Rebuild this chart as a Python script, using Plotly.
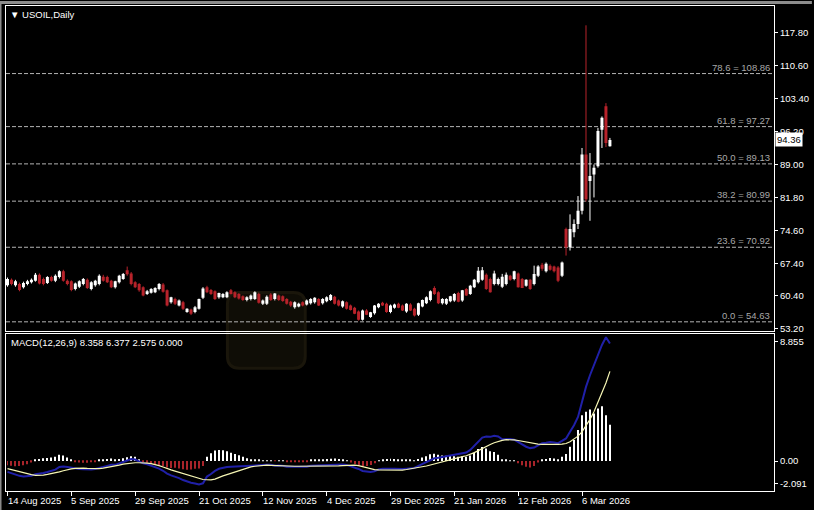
import plotly.graph_objects as go

# ---------------- data ----------------
bar_index = list(range(152))

opens = [
    62.6, 63.8, 62.6, 62.9, 62.2, 62.9, 63.3, 63.6, 64.9, 64.0,
    63.1, 64.4, 63.6, 64.4, 65.7, 63.6, 63.5, 61.8, 62.3, 62.9,
    63.8, 61.8, 62.6, 62.9, 64.5, 64.4, 63.6, 62.2, 63.3, 64.0,
    65.9, 65.2, 63.3, 62.9, 62.2, 60.7, 61.0, 61.1, 61.8, 62.8,
    61.5, 58.9, 59.6, 58.2, 58.9, 56.8, 57.3, 56.8, 57.5, 59.9,
    62.2, 61.6, 61.3, 60.0, 60.0, 60.0, 61.5, 61.1, 60.7, 60.2,
    59.4, 59.6, 59.6, 60.7, 58.6, 58.6, 60.6, 59.6, 60.4, 60.2,
    59.6, 59.0, 57.8, 58.0, 58.9, 58.4, 58.7, 58.9, 59.6, 58.7,
    59.1, 59.4, 60.1, 59.3, 58.0, 58.9, 58.2, 57.7, 56.9, 55.1,
    57.1, 55.7, 56.5, 57.8, 58.8, 58.6, 56.8, 57.7, 58.6, 58.2,
    56.9, 58.4, 57.5, 56.2, 58.0, 58.7, 59.4, 62.0, 61.1, 58.7,
    58.6, 59.1, 59.3, 60.9, 59.3, 61.8, 60.7, 62.2, 63.3, 63.8,
    64.9, 64.0, 62.9, 62.9, 62.3, 62.9, 64.7, 64.0, 65.2, 64.0,
    62.5, 63.8, 62.9, 64.7, 67.1, 65.7, 66.9, 66.7, 66.5, 64.7,
    74.9, 70.9, 74.2, 76.0, 78.9, 91.2, 85.4, 86.8, 88.6, 96.6,
    101.7, 93.0,
]
highs = [
    64.3, 64.1, 63.8, 63.2, 63.4, 63.8, 64.1, 65.3, 65.2, 64.3,
    64.6, 64.7, 65.0, 65.9, 66.0, 63.9, 63.7, 63.2, 63.7, 64.2,
    64.1, 63.5, 63.8, 65.0, 64.9, 64.7, 63.8, 63.6, 64.9, 65.3,
    66.7, 65.5, 63.5, 63.1, 62.4, 61.6, 62.0, 62.2, 63.1, 63.1,
    61.7, 60.1, 59.9, 59.5, 59.2, 57.6, 57.5, 58.1, 59.7, 62.2,
    62.5, 61.8, 61.5, 61.0, 60.9, 61.3, 61.8, 61.3, 60.9, 60.4,
    60.2, 60.6, 61.3, 61.0, 59.5, 60.4, 60.9, 60.9, 60.6, 60.4,
    59.8, 59.2, 59.1, 58.8, 59.1, 59.5, 59.8, 60.0, 59.8, 59.8,
    60.2, 60.7, 60.3, 59.5, 59.3, 59.1, 58.4, 57.9, 57.1, 57.3,
    57.4, 56.8, 58.3, 58.7, 59.0, 58.8, 58.4, 58.6, 58.8, 58.4,
    58.7, 58.7, 57.7, 58.8, 59.5, 60.2, 61.5, 62.4, 61.3, 59.8,
    59.8, 60.3, 60.9, 61.2, 61.6, 62.0, 62.7, 64.0, 66.6, 66.6,
    65.2, 64.3, 65.8, 64.3, 65.1, 65.4, 64.9, 65.8, 65.4, 64.2,
    63.9, 64.0, 66.9, 67.0, 67.5, 67.6, 67.2, 66.9, 66.8, 67.8,
    75.2, 78.1, 77.0, 82.1, 92.6, 119.4, 91.5, 89.0, 97.0, 99.5,
    102.4, 94.8,
]
lows = [
    62.3, 62.6, 62.3, 61.3, 61.9, 62.6, 63.0, 63.4, 62.8, 62.6,
    62.9, 63.4, 63.3, 64.1, 63.4, 62.6, 61.3, 61.5, 62.0, 62.6,
    61.8, 61.5, 62.3, 62.6, 63.4, 63.1, 62.0, 61.9, 63.0, 63.8,
    64.7, 62.6, 62.0, 61.2, 60.2, 60.5, 60.8, 60.9, 61.5, 61.0,
    58.0, 58.6, 58.3, 58.0, 57.2, 56.6, 56.1, 56.5, 57.3, 59.6,
    60.9, 60.5, 59.4, 59.7, 59.8, 59.8, 60.6, 59.8, 59.5, 59.2,
    59.1, 59.3, 59.4, 58.6, 58.3, 58.3, 59.2, 59.3, 59.2, 59.0,
    58.4, 57.9, 57.5, 57.8, 58.0, 58.2, 58.4, 58.6, 58.1, 58.4,
    58.9, 59.2, 58.4, 58.0, 57.7, 57.3, 57.1, 56.3, 54.9, 54.9,
    56.1, 55.5, 56.2, 57.6, 58.1, 56.6, 56.5, 57.5, 57.6, 57.0,
    56.6, 57.0, 55.8, 55.9, 57.8, 58.5, 59.1, 60.5, 58.5, 58.4,
    58.3, 58.9, 59.0, 58.9, 59.0, 60.3, 60.5, 62.0, 63.0, 63.6,
    61.6, 61.0, 62.6, 62.6, 62.0, 62.6, 63.6, 63.7, 62.1, 62.0,
    62.3, 61.6, 62.6, 64.4, 65.8, 65.4, 65.8, 65.4, 63.3, 64.4,
    69.1, 70.2, 73.1, 74.9, 78.1, 80.9, 76.7, 81.8, 88.3, 92.6,
    92.8, 92.9,
]
closes = [
    64.0, 62.9, 63.5, 61.6, 63.1, 63.5, 63.8, 64.9, 63.0, 62.9,
    64.4, 63.6, 64.7, 65.7, 63.6, 62.9, 61.6, 63.0, 63.5, 64.0,
    62.0, 63.3, 63.6, 64.7, 63.6, 63.3, 62.2, 63.5, 64.7, 65.1,
    65.0, 62.9, 62.2, 61.5, 60.4, 61.3, 61.8, 62.0, 62.9, 61.2,
    58.2, 60.0, 58.6, 59.3, 57.5, 57.5, 56.4, 57.8, 59.6, 61.9,
    61.1, 60.7, 59.6, 60.9, 60.7, 61.1, 60.7, 60.0, 59.7, 59.4,
    60.0, 60.4, 61.1, 58.8, 59.3, 60.1, 59.4, 60.8, 59.4, 59.2,
    58.6, 58.2, 58.9, 58.6, 58.2, 59.3, 59.6, 59.9, 58.2, 59.6,
    60.0, 60.5, 58.6, 58.2, 59.1, 57.5, 57.2, 56.4, 55.1, 57.1,
    56.2, 56.7, 58.2, 58.6, 58.2, 56.8, 58.2, 58.4, 57.7, 57.1,
    58.6, 57.1, 56.0, 58.7, 59.4, 60.0, 61.3, 60.7, 58.7, 59.6,
    59.6, 60.2, 60.7, 59.0, 61.5, 60.4, 62.5, 63.8, 65.8, 65.9,
    61.8, 61.1, 65.2, 64.0, 64.5, 64.9, 63.8, 65.7, 62.2, 62.0,
    63.8, 61.8, 65.1, 66.7, 66.2, 67.3, 66.0, 65.7, 63.6, 67.6,
    70.9, 74.9, 76.0, 78.9, 91.2, 81.4, 86.5, 88.3, 96.3, 99.2,
    93.7, 94.36,
]

macd_main = [
    -0.77, -0.87, -0.98, -1.05, -1.09, -1.09, -1.05, -0.93, -0.90, -0.85,
    -0.78, -0.71, -0.61, -0.42, -0.38, -0.42, -0.47, -0.56, -0.57, -0.59,
    -0.61, -0.60, -0.57, -0.48, -0.41, -0.34, -0.27, -0.27, -0.17, -0.07,
    0.05, 0.14, 0.11, -0.03, -0.16, -0.23, -0.33, -0.41, -0.54, -0.69,
    -0.89, -1.02, -1.09, -1.21, -1.35, -1.47, -1.54, -1.59, -1.67, -1.58,
    -1.10, -0.92, -0.70, -0.55, -0.46, -0.42, -0.41, -0.39, -0.36, -0.35,
    -0.34, -0.32, -0.29, -0.27, -0.26, -0.27, -0.27, -0.34, -0.32, -0.33,
    -0.41, -0.42, -0.42, -0.41, -0.42, -0.41, -0.33, -0.32, -0.31, -0.30,
    -0.27, -0.25, -0.22, -0.22, -0.24, -0.27, -0.37, -0.44, -0.56, -0.70,
    -0.75, -0.77, -0.73, -0.59, -0.55, -0.53, -0.54, -0.55, -0.57, -0.56,
    -0.54, -0.51, -0.49, -0.34, -0.21, -0.08, 0.09, 0.20, 0.23, 0.26,
    0.34, 0.40, 0.46, 0.49, 0.57, 0.61, 0.79, 1.06, 1.39, 1.67,
    1.74, 1.72, 1.80, 1.75, 1.55, 1.58, 1.57, 1.52, 1.34, 1.17,
    1.02, 0.92, 0.96, 1.12, 1.27, 1.30, 1.35, 1.32, 1.27, 1.43,
    1.61, 2.08, 2.55, 3.14, 4.21, 5.27, 6.10, 6.81, 7.52, 8.25,
    8.80, 8.358,
]
macd_signal = [
    -0.54, -0.62, -0.70, -0.78, -0.86, -0.92, -0.97, -1.02, -1.02, -1.00,
    -0.95, -0.90, -0.84, -0.77, -0.69, -0.61, -0.56, -0.52, -0.49, -0.50,
    -0.52, -0.54, -0.54, -0.54, -0.50, -0.46, -0.41, -0.35, -0.29, -0.22,
    -0.17, -0.13, -0.12, -0.12, -0.12, -0.14, -0.18, -0.24, -0.32, -0.42,
    -0.54, -0.63, -0.72, -0.81, -0.90, -0.99, -1.08, -1.17, -1.27, -1.31,
    -1.33, -1.34, -1.28, -1.15, -1.05, -0.96, -0.87, -0.78, -0.68, -0.58,
    -0.49, -0.41, -0.37, -0.33, -0.30, -0.29, -0.30, -0.32, -0.34, -0.35,
    -0.36, -0.36, -0.37, -0.37, -0.37, -0.38, -0.38, -0.38, -0.39, -0.39,
    -0.38, -0.37, -0.36, -0.34, -0.32, -0.30, -0.29, -0.29, -0.33, -0.41,
    -0.48, -0.55, -0.61, -0.63, -0.64, -0.65, -0.66, -0.66, -0.66, -0.64,
    -0.60, -0.56, -0.51, -0.46, -0.40, -0.35, -0.28, -0.20, -0.12, -0.05,
    0.05, 0.12, 0.19, 0.26, 0.32, 0.38, 0.48, 0.60, 0.74, 0.90,
    1.05, 1.18, 1.30, 1.40, 1.47, 1.52, 1.53, 1.50, 1.46, 1.40,
    1.33, 1.27, 1.23, 1.20, 1.19, 1.18, 1.18, 1.18, 1.18, 1.20,
    1.25, 1.37, 1.54, 1.77, 2.08, 2.48, 2.96, 3.50, 4.14, 4.85,
    5.55, 6.377,
]
macd_hist = [
    -0.30, -0.33, -0.37, -0.35, -0.30, -0.22, -0.10, 0.12, 0.15, 0.20,
    0.22, 0.25, 0.30, 0.45, 0.40, 0.25, 0.12, -0.05, -0.10, -0.12,
    -0.12, -0.08, -0.04, 0.08, 0.12, 0.15, 0.18, 0.10, 0.15, 0.20,
    0.28, 0.35, 0.30, 0.12, -0.05, -0.12, -0.20, -0.22, -0.28, -0.35,
    -0.45, -0.50, -0.48, -0.52, -0.58, -0.62, -0.60, -0.55, -0.52, -0.35,
    0.30, 0.55, 0.75, 0.78, 0.76, 0.70, 0.60, 0.50, 0.42, 0.30,
    0.20, 0.12, 0.10, 0.08, 0.05, 0.02, 0.04, -0.02, 0.03, 0.02,
    -0.06, -0.08, -0.07, -0.05, -0.06, -0.04, 0.06, 0.08, 0.10, 0.12,
    0.14, 0.16, 0.18, 0.15, 0.10, 0.04, -0.10, -0.20, -0.30, -0.38,
    -0.35, -0.28, -0.15, 0.05, 0.12, 0.15, 0.16, 0.14, 0.12, 0.10,
    0.08, 0.06, 0.02, 0.15, 0.25, 0.35, 0.48, 0.52, 0.45, 0.40,
    0.38, 0.36, 0.35, 0.30, 0.32, 0.30, 0.40, 0.60, 0.85, 1.00,
    0.90, 0.70, 0.65, 0.45, 0.10, 0.08, 0.05, 0.03, -0.15, -0.30,
    -0.40, -0.45, -0.35, -0.10, 0.10, 0.15, 0.22, 0.18, 0.12, 0.30,
    0.50, 1.02, 1.49, 2.20, 3.26, 3.50, 3.66, 3.38, 3.73, 3.90,
    3.26, 2.575,
]

date_ticks = [0, 16, 32, 48, 64, 80, 96, 112, 128, 144]
date_labels = ["14 Aug 2025", "5 Sep 2025", "29 Sep 2025", "21 Oct 2025",
               "12 Nov 2025", "4 Dec 2025", "29 Dec 2025", "21 Jan 2026",
               "12 Feb 2026", "6 Mar 2026"]
price_ticks = [117.80, 110.60, 103.40, 96.20, 89.00, 81.80, 74.60, 67.40, 60.40, 53.20]
macd_tick_pos = [8.50, 0.0, -1.63]
macd_tick_labels = ["8.855", "0.00", "-2.091"]
fib_levels = [0.0, 23.6, 38.2, 50.0, 61.8, 78.6]
fib_prices = [54.63, 70.92, 80.99, 89.13, 97.27, 108.86]
symbol_title = "USOIL,Daily"
macd_title = "MACD(12,26,9) 8.358 6.377 2.575 0.000"

# ---------------- styling ----------------
FONT = "Liberation Sans, Arial, sans-serif"
FS = 9.5
BULL = "#ffffff"
BEAR = "#b8232b"
PW, PH = 770, 486  # plot area size in px (for paper-space decorations)

fig = go.Figure()

bull = [i for i in bar_index if closes[i] >= opens[i]]
bear = [i for i in bar_index if closes[i] < opens[i]]


def wick_xy(idx):
    xs, ys = [], []
    for i in idx:
        xs += [i, i, None]
        ys += [lows[i], highs[i], None]
    return xs, ys


for idx, col in ((bull, BULL), (bear, BEAR)):
    wx, wy = wick_xy(idx)
    fig.add_trace(go.Scatter(x=wx, y=wy, mode="lines", line=dict(color=col, width=1),
                             xaxis="x", yaxis="y", hoverinfo="skip"))
    fig.add_trace(go.Bar(x=idx,
                         y=[max(abs(closes[i] - opens[i]), 0.15) for i in idx],
                         base=[min(opens[i], closes[i]) for i in idx],
                         width=0.75, marker=dict(color=col, line=dict(width=0)),
                         xaxis="x", yaxis="y", hoverinfo="skip"))

# MACD histogram
pos = [i for i in bar_index if macd_hist[i] >= 0]
neg = [i for i in bar_index if macd_hist[i] < 0]
fig.add_trace(go.Bar(x=pos, y=[macd_hist[i] for i in pos], width=0.25,
                     marker=dict(color="#ffffff", line=dict(width=0)),
                     xaxis="x2", yaxis="y2", hoverinfo="skip"))
fig.add_trace(go.Bar(x=neg, y=[macd_hist[i] for i in neg], width=0.25,
                     marker=dict(color="#a8242a", line=dict(width=0)),
                     xaxis="x2", yaxis="y2", hoverinfo="skip"))
fig.add_trace(go.Scatter(x=bar_index, y=macd_main, mode="lines",
                         line=dict(color="#2020a8", width=2),
                         xaxis="x2", yaxis="y2", hoverinfo="skip"))
fig.add_trace(go.Scatter(x=bar_index, y=macd_signal, mode="lines",
                         line=dict(color="#f6f6b4", width=1.2),
                         xaxis="x2", yaxis="y2", hoverinfo="skip"))

xrange = [-0.375, 192.125]
axis_common = dict(showgrid=False, zeroline=False, showline=True, mirror=True,
                   linecolor="#ffffff", linewidth=1)

shapes = []
annotations = []

# faint watermark logo (decoration, paper space)
wx0, wx1 = (228 - 6) / PW, (306 - 6) / PW
wy0, wy1 = (491 - 368) / PH, (491 - 292) / PH
rx, ry = 12 / PW, 12 / PH
wm_path = (f"M {wx0+rx},{wy0} L {wx1-rx},{wy0} Q {wx1},{wy0} {wx1},{wy0+ry} "
           f"L {wx1},{wy1-ry} Q {wx1},{wy1} {wx1-rx},{wy1} L {wx0+rx},{wy1} "
           f"Q {wx0},{wy1} {wx0},{wy1-ry} L {wx0},{wy0+ry} Q {wx0},{wy0} {wx0+rx},{wy0} Z")
shapes.append(dict(type="path", xref="paper", yref="paper", path=wm_path,
                   fillcolor="#0f0d06", line=dict(color="#1a160b", width=3), layer="below"))

for lvl, p in zip(fib_levels, fib_prices):
    shapes.append(dict(type="line", xref="x domain", yref="y", x0=0, x1=1, y0=p, y1=p,
                       line=dict(color="#b4b4b4", width=1, dash="4px,2px"), layer="below"))
    annotations.append(dict(xref="paper", yref="y", x=1, y=p, xanchor="right", yanchor="bottom",
                            xshift=-2, yshift=-1, showarrow=False,
                            text=f"{lvl:.1f} = {p:.2f}",
                            font=dict(family=FONT, size=FS, color="#a8a8a8")))

# window frame strips
shapes.append(dict(type="rect", xref="paper", yref="paper", x0=-6 / PW, x1=1 + 38 / PW,
                   y0=1 + 2 / PH, y1=1 + 5 / PH, fillcolor="#8c8c8c", line=dict(width=0)))
shapes.append(dict(type="rect", xref="paper", yref="paper", x0=-6 / PW, x1=-4.5 / PW,
                   y0=-19 / PH, y1=1 + 5 / PH, fillcolor="#8c8c8c", line=dict(width=0)))

annotations.append(dict(xref="paper", yref="paper", x=0, y=1, xanchor="left", yanchor="top",
                        xshift=2, yshift=-1, showarrow=False, text="▼ " + symbol_title,
                        font=dict(family=FONT, size=FS, color="#ffffff")))
annotations.append(dict(xref="paper", yref="paper", x=0, y=0.3230, xanchor="left", yanchor="top",
                        xshift=3, yshift=-1, showarrow=False, text=macd_title,
                        font=dict(family=FONT, size=FS, color="#ffffff")))
annotations.append(dict(xref="paper", yref="y", x=1, y=closes[-1], xanchor="left", yanchor="middle",
                        xshift=1, showarrow=False, text=f"{closes[-1]:.2f}",
                        bgcolor="#ffffff", borderpad=1,
                        font=dict(family=FONT, size=FS, color="#000000")))
for t, lab in zip(date_ticks, date_labels):
    annotations.append(dict(xref="x2", yref="paper", x=t, y=0, xanchor="left", yanchor="top",
                            xshift=-2, yshift=-2, showarrow=False, text=lab,
                            font=dict(family=FONT, size=FS, color="#ffffff")))

fig.update_layout(
    width=814, height=510,
    margin=dict(l=6, r=38, t=5, b=19),
    paper_bgcolor="#000000", plot_bgcolor="rgba(0,0,0,0)",
    showlegend=False, barmode="overlay", hovermode=False,
    font=dict(family=FONT, size=FS, color="#ffffff"),
    xaxis=dict(domain=[0, 1], anchor="y", range=xrange, showticklabels=False, ticks="",
               **axis_common),
    yaxis=dict(domain=[0.3292, 1], anchor="x", side="right", range=[52.55, 123.62],
               tickvals=price_ticks, ticktext=[f"{v:.2f}" for v in price_ticks],
               ticks="outside", ticklen=3, tickcolor="#ffffff", ticklabelstandoff=0,
               tickfont=dict(family=FONT, size=FS, color="#ffffff"), **axis_common),
    xaxis2=dict(domain=[0, 1], anchor="y2", range=xrange, matches="x",
                tickvals=date_ticks, showticklabels=False,
                ticks="outside", ticklen=4, tickcolor="#ffffff", **axis_common),
    yaxis2=dict(domain=[0, 0.3230], anchor="x2", side="right", range=[-2.128, 9.007],
                tickvals=macd_tick_pos, ticktext=macd_tick_labels,
                ticks="outside", ticklen=3, tickcolor="#ffffff", ticklabelstandoff=0,
                tickfont=dict(family=FONT, size=FS, color="#ffffff"), **axis_common),
    shapes=shapes,
    annotations=annotations,
)

fig.write_html(
    "out.html",
    config={"displayModeBar": False},
    post_script="document.body.style.margin='0';document.body.style.padding='0';"
                "document.body.style.overflow='hidden';document.body.style.background='#000';",
)
